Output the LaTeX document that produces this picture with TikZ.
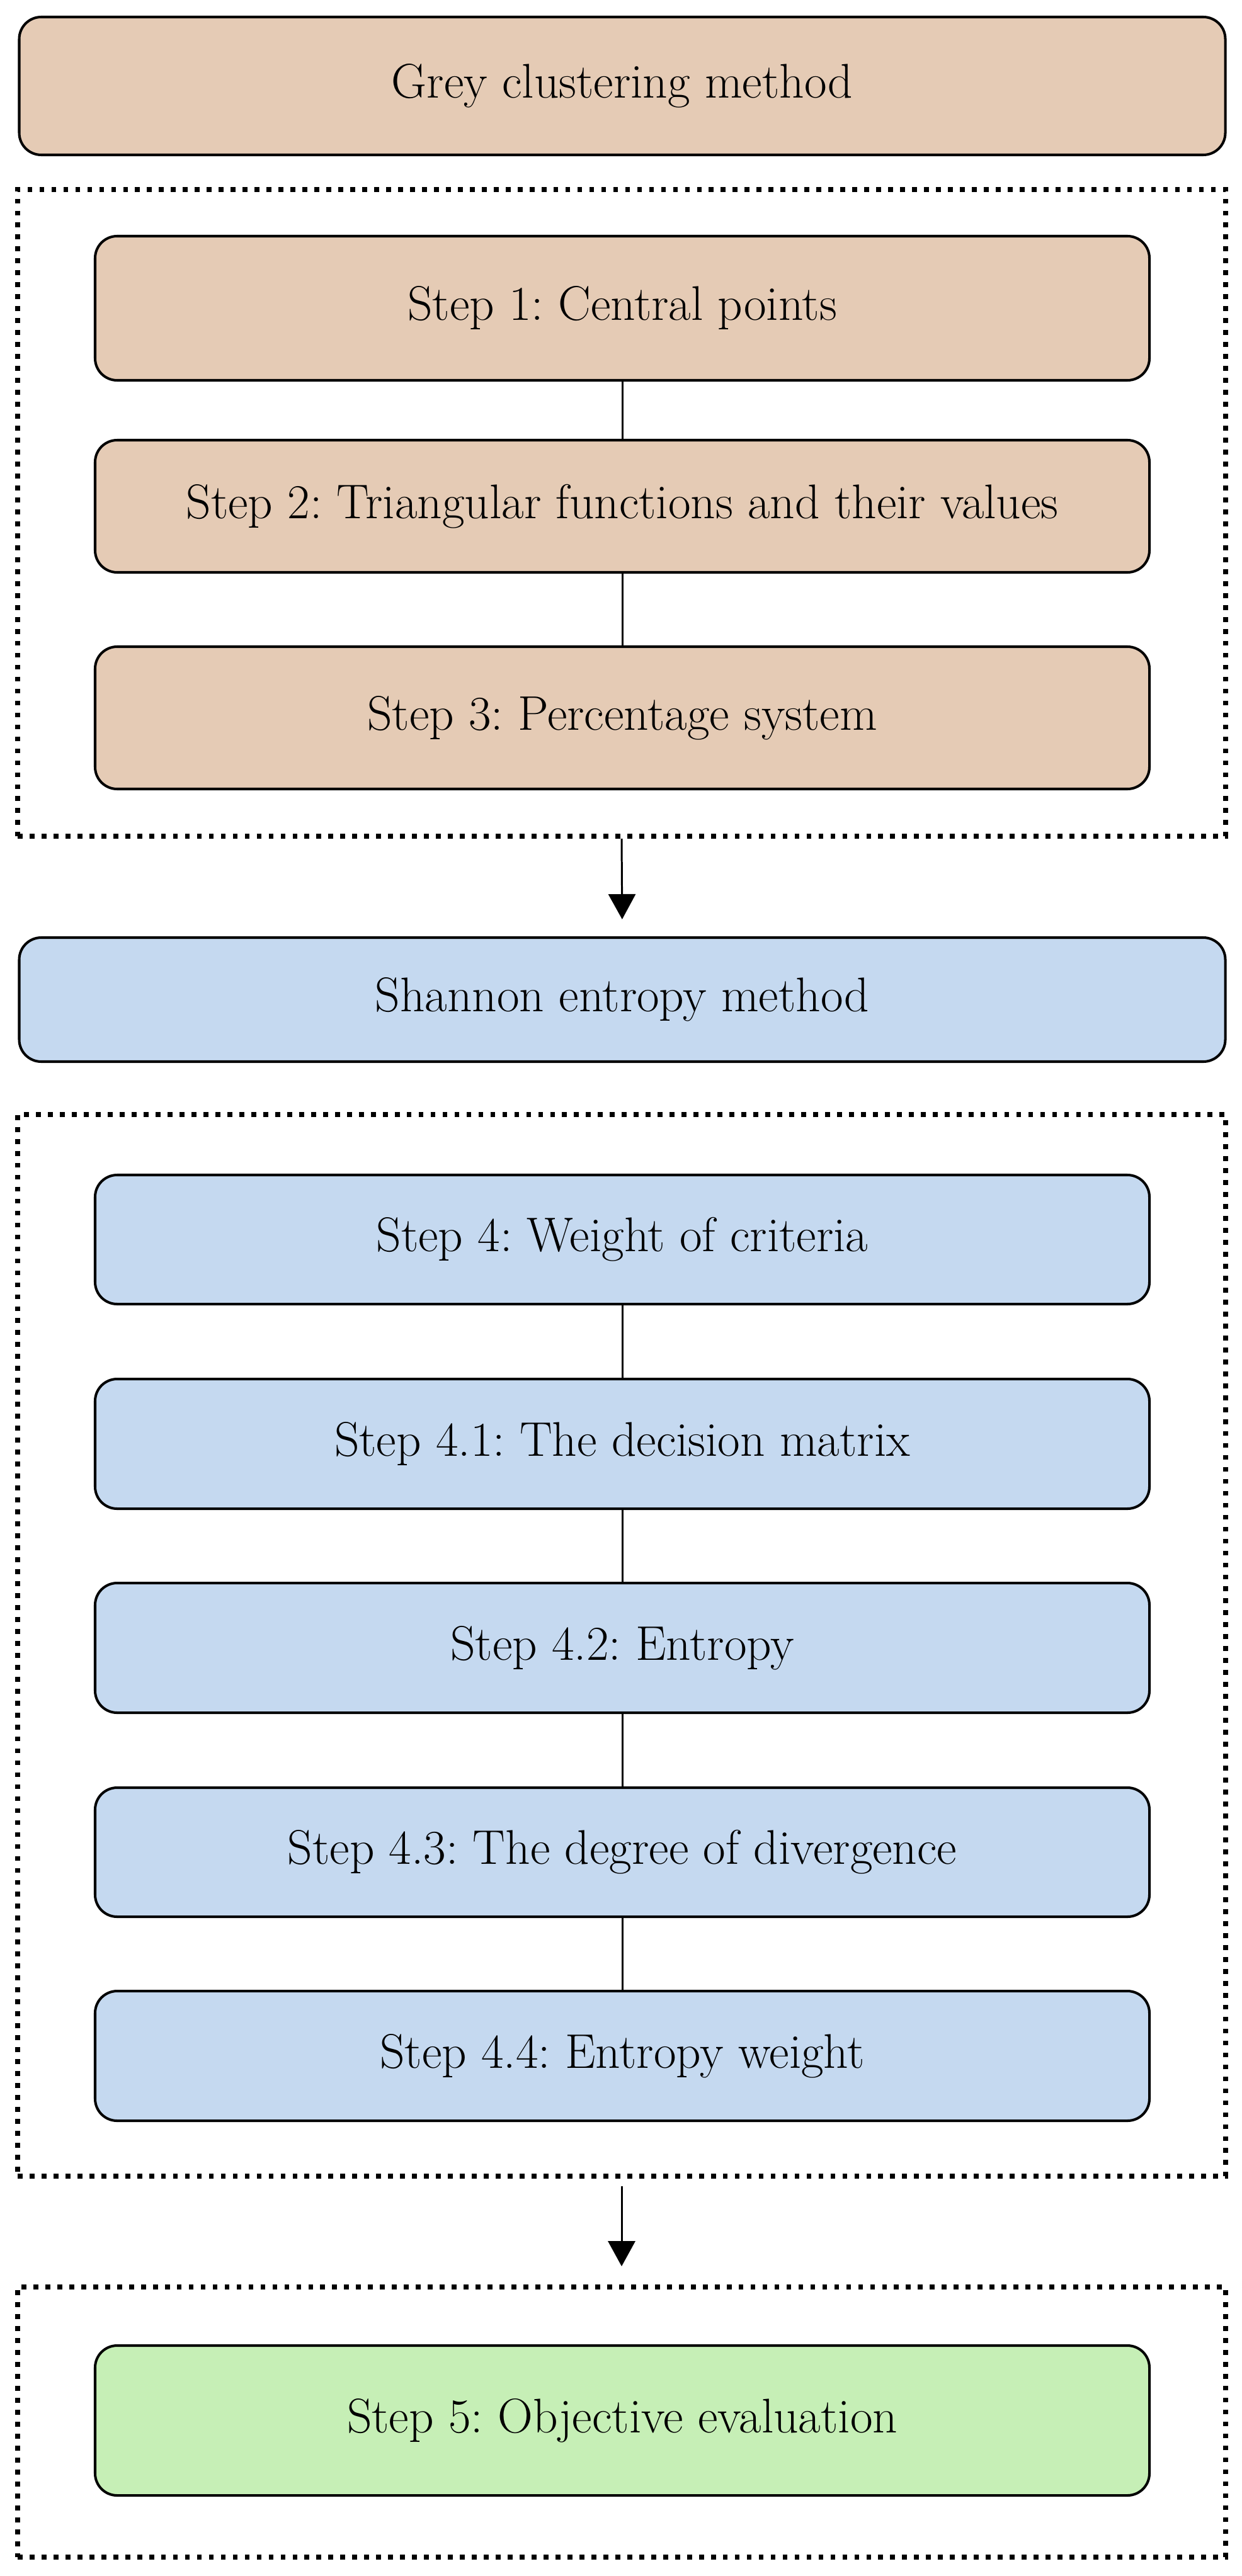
\documentclass[tikz,border=0pt]{standalone}
\usetikzlibrary{arrows.meta}
\definecolor{peach}{RGB}{229,203,181}
\definecolor{paleblue}{RGB}{197,217,240}
\definecolor{palegreen}{RGB}{198,239,182}
\begin{document}
\frenchspacing
\begin{tikzpicture}[
		stepbox/.style={draw=black, line width=1.15pt, rounded corners=0.35cm, minimum width=16.74cm, font=\fontsize{22}{26}\selectfont},
		methodbox/.style={stepbox, minimum width=19.15cm},
		frame/.style={draw=black, line width=2.2pt, dash pattern=on 2.2pt off 3.2pt, minimum width=19.18cm},
		link/.style={draw=black, line width=0.85pt},
		flow/.style={link, -{Triangle[width=0.43cm,length=0.40cm]}}
	]
		\useasboundingbox (0,0) rectangle (19.71,-40.91);
		
		\node[methodbox, fill=peach, minimum height=2.19cm] (grey) at (9.88,-1.365) {Grey clustering method};
		\node[frame, minimum height=10.27cm] (frameA) at (9.87,-8.145) {};
		\node[stepbox, fill=peach, minimum height=2.29cm] (s1) at (9.88,-4.895) {Step 1: Central points};
		\node[stepbox, fill=peach, minimum height=2.10cm] (s2) at (9.88,-8.04) {Step 2: Triangular functions and their values};
		\node[stepbox, fill=peach, minimum height=2.26cm] (s3) at (9.88,-11.40) {Step 3: Percentage system};
		\draw[link] (s1) -- (s2);
		\draw[link] (s2) -- (s3);
		
		\node[methodbox, fill=paleblue, minimum height=1.97cm] (shannon) at (9.88,-15.875) {Shannon entropy method};
		\draw[flow, shorten >=0.27cm] (frameA.south) -- (shannon.north);
		
		\node[frame, minimum height=16.86cm] (frameB) at (9.87,-26.13) {};
		\node[stepbox, fill=paleblue, minimum height=2.05cm] (s4) at (9.88,-19.685) {Step 4: Weight of criteria};
		\node[stepbox, fill=paleblue, minimum height=2.06cm] (s41) at (9.88,-22.93) {Step 4.1: The decision matrix};
		\node[stepbox, fill=paleblue, minimum height=2.06cm] (s42) at (9.88,-26.17) {Step 4.2: Entropy};
		\node[stepbox, fill=paleblue, minimum height=2.05cm] (s43) at (9.88,-29.415) {Step 4.3: The degree of divergence};
		\node[stepbox, fill=paleblue, minimum height=2.06cm] (s44) at (9.88,-32.65) {Step 4.4: Entropy weight};
		\draw[link] (s4) -- (s41);
		\draw[link] (s41) -- (s42);
		\draw[link] (s42) -- (s43);
		\draw[link] (s43) -- (s44);
		
		\node[frame, minimum height=4.29cm] (frameC) at (9.87,-38.465) {};
		\node[stepbox, fill=palegreen, minimum height=2.38cm] (s5) at (9.88,-38.44) {Step 5: Objective evaluation};
		\draw[flow, shorten <=0.12cm, shorten >=0.29cm] (frameB.south) -- (frameC.north);
\end{tikzpicture}
\end{document}
